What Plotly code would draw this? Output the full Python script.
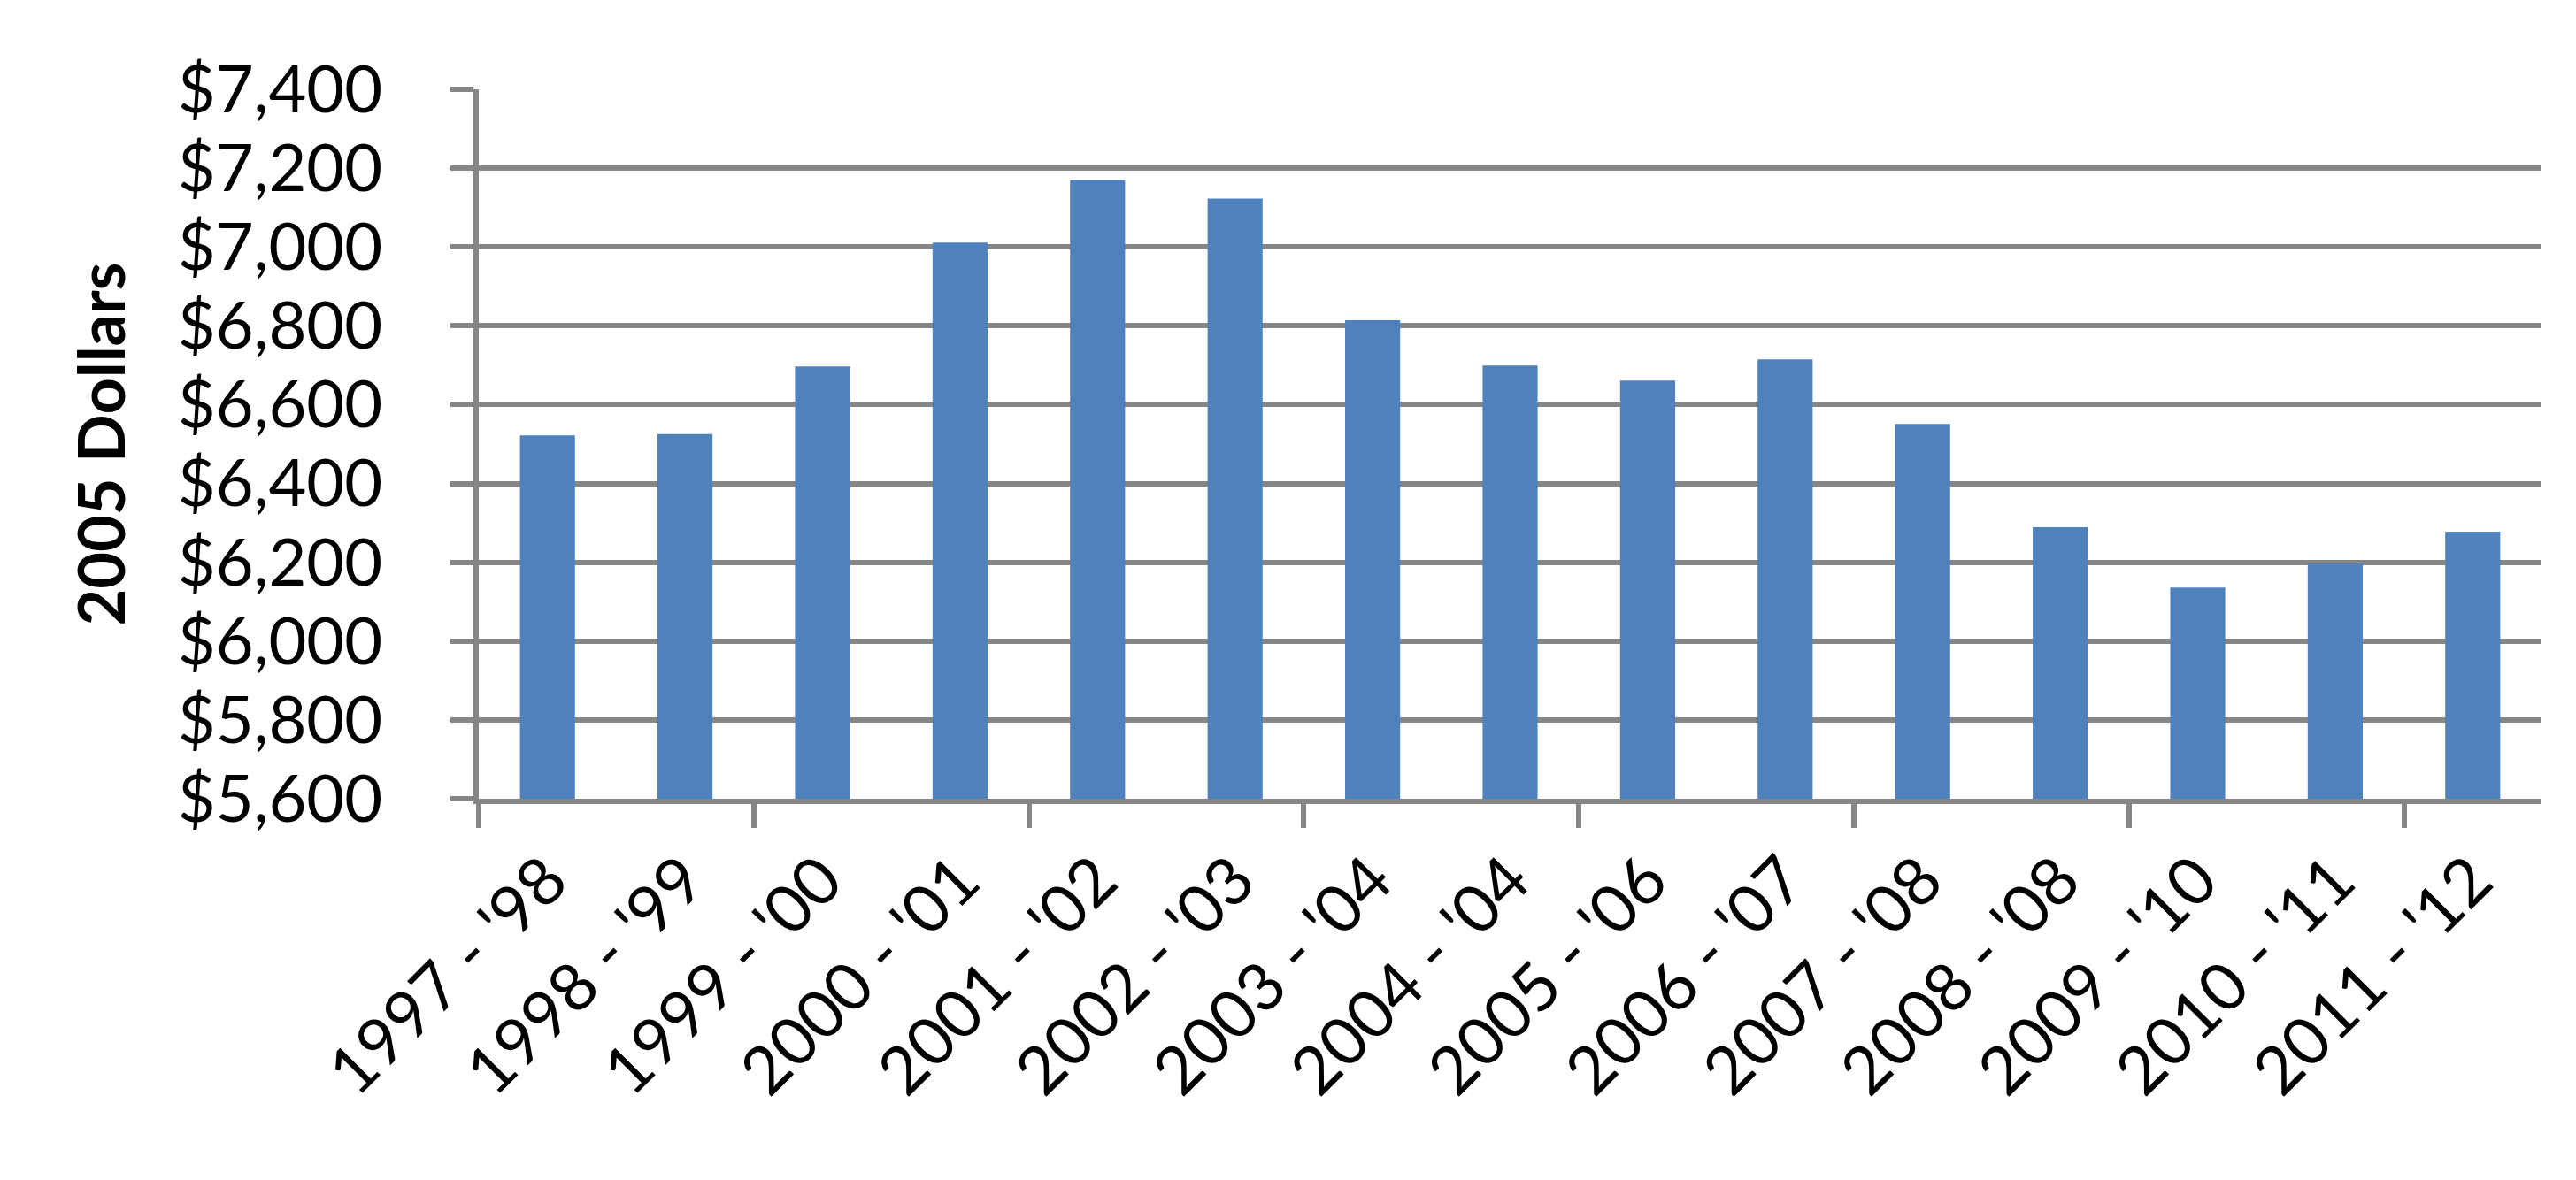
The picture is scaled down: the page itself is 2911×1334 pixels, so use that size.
import plotly.graph_objects as go

categories = ["1997 - '98", "1998 - '99", "1999 - '00", "2000 - '01", "2001 - '02",
              "2002 - '03", "2003 - '04", "2004 - '04", "2005 - '06", "2006 - '07",
              "2007 - '08", "2008 - '08", "2009 - '10", "2010 - '11", "2011 - '12"]
values = [6522, 6525, 6697, 7011, 7170, 7123, 6814, 6699, 6661, 6715, 6551, 6289, 6136, 6197, 6278]
y_title = "2005 Dollars"
y_min, y_max, y_step = 5600, 7400, 200

positions = list(range(len(categories)))
tick_boundaries = [p - 0.5 for p in positions[::2]]

GRAY = "#868686"
BAR = "#4F81BD"
FONT = "Lato"

fig = go.Figure()
fig.add_trace(go.Bar(x=positions, y=values, marker=dict(color=BAR, line=dict(width=0)),
                     width=0.4, hoverinfo="skip"))

fig.update_layout(
    width=2911, height=1334,
    margin=dict(l=533, r=47, t=93, b=439, autoexpand=False),
    paper_bgcolor="white", plot_bgcolor="white",
    showlegend=False,
    font=dict(family=FONT, color="black", size=74),
    xaxis=dict(
        automargin=False,
        range=[-0.5, len(categories) - 0.5],
        tickmode="array", tickvals=positions, ticktext=categories,
        tickangle=-45, ticks="", showgrid=False, zeroline=False,
        showline=True, linecolor=GRAY, linewidth=6,
        tickfont=dict(family=FONT, size=75, color="black"),
        ticklabelstandoff=12,
        minor=dict(tickmode="array", tickvals=tick_boundaries, ticks="outside",
                   ticklen=27, tickwidth=6, tickcolor=GRAY, showgrid=False),
    ),
    yaxis=dict(
        automargin=False,
        range=[y_min, y_max], tick0=y_min, dtick=y_step,
        tickprefix="$", tickformat=",d",
        showgrid=True, gridcolor=GRAY, gridwidth=6,
        ticks="outside", ticklen=26, tickwidth=6, tickcolor=GRAY,
        showline=True, linecolor=GRAY, linewidth=6, zeroline=False,
        tickfont=dict(family=FONT, size=74, color="black"),
        ticklabelstandoff=62,
        title=dict(text="<b>" + y_title + "</b>", font=dict(family=FONT, size=72, color="black"),
                   standoff=38),
    ),
)

fig.write_html("out.html")
